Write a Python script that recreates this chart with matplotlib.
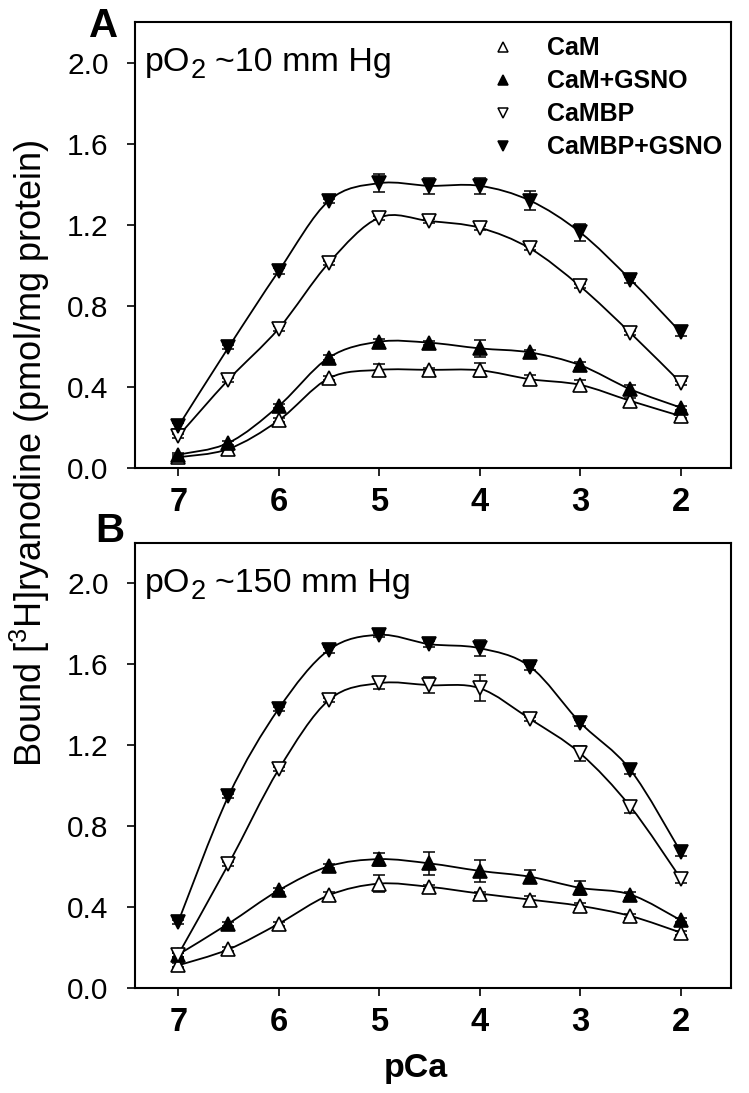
import numpy as np
import matplotlib
matplotlib.use("Agg")
import matplotlib.pyplot as plt
from matplotlib.path import Path
from matplotlib.patches import PathPatch
from matplotlib.lines import Line2D

plt.rcParams['font.family'] = ['Liberation Sans', 'DejaVu Sans']
plt.rcParams['mathtext.default'] = 'regular'

# ---------------- data ----------------
pca = [7, 6.5, 6, 5.5, 5, 4.5, 4, 3.5, 3, 2.5, 2]
series_labels = ['CaM', 'CaM+GSNO', 'CaMBP', 'CaMBP+GSNO']

# Panel A  (pO2 ~10 mm Hg)
cam_a = [0.053, 0.094, 0.235, 0.443, 0.484, 0.484, 0.482, 0.438, 0.410, 0.331, 0.256]
camg_a = [0.066, 0.124, 0.306, 0.545, 0.623, 0.618, 0.590, 0.570, 0.507, 0.388, 0.298]
cambp_a = [0.157, 0.436, 0.688, 1.013, 1.235, 1.218, 1.185, 1.083, 0.896, 0.666, 0.421]
cambpg_a = [0.205, 0.595, 0.972, 1.319, 1.405, 1.392, 1.392, 1.319, 1.162, 0.929, 0.669]
cam_a_err = [0.01, 0.01, 0.01, 0.01, 0.03, 0.01, 0.035, 0.02, 0.025, 0.015, 0.01]
camg_a_err = [0.01, 0.01, 0.01, 0.01, 0.015, 0.01, 0.04, 0.01, 0.015, 0.02, 0.01]
cambp_a_err = [0.01, 0.01, 0.01, 0.01, 0.01, 0.01, 0.01, 0.01, 0.01, 0.01, 0.01]
cambpg_a_err = [0.015, 0.01, 0.015, 0.01, 0.045, 0.04, 0.04, 0.045, 0.04, 0.015, 0.02]

# Panel B  (pO2 ~150 mm Hg)
cam_b = [0.112, 0.191, 0.318, 0.459, 0.516, 0.500, 0.467, 0.437, 0.406, 0.356, 0.274]
camg_b = [0.165, 0.318, 0.483, 0.602, 0.637, 0.616, 0.579, 0.550, 0.495, 0.462, 0.335]
cambp_b = [0.165, 0.612, 1.081, 1.424, 1.507, 1.497, 1.482, 1.330, 1.160, 0.896, 0.541]
cambpg_b = [0.327, 0.949, 1.381, 1.672, 1.746, 1.700, 1.680, 1.589, 1.312, 1.078, 0.673]
cam_b_err = [0.01, 0.01, 0.01, 0.015, 0.041, 0.01, 0.01, 0.02, 0.015, 0.01, 0.01]
camg_b_err = [0.01, 0.01, 0.01, 0.01, 0.032, 0.056, 0.054, 0.031, 0.033, 0.015, 0.01]
cambp_b_err = [0.01, 0.01, 0.01, 0.01, 0.03, 0.04, 0.065, 0.01, 0.037, 0.03, 0.02]
cambpg_b_err = [0.01, 0.01, 0.01, 0.015, 0.01, 0.015, 0.04, 0.015, 0.015, 0.02, 0.02]

x_ticks = [7, 6, 5, 4, 3, 2]
y_ticks = [0.0, 0.4, 0.8, 1.2, 1.6, 2.0]

# ---------------- styles ----------------
markers = ['^', '^', 'v', 'v']
faces = ['white', 'black', 'white', 'black']


def smooth_path(x, y):
    """Catmull-Rom curve through the data points, as cubic Bezier segments."""
    pts = np.column_stack([x, y]).astype(float)
    n = len(pts)
    verts = [pts[0]]
    codes = [Path.MOVETO]
    for i in range(n - 1):
        p0 = pts[i - 1] if i > 0 else pts[i]
        p1 = pts[i]
        p2 = pts[i + 1]
        p3 = pts[i + 2] if i + 2 < n else pts[i + 1]
        c1 = p1 + (p2 - p0) / 6.0
        c2 = p2 - (p3 - p1) / 6.0
        verts += [c1, c2, p2]
        codes += [Path.CURVE4] * 3
    return Path(verts, codes)


def po2_label(ax, rest):
    t1 = ax.text(7.33, 2.0, 'pO', fontsize=24.5, va='center', ha='left')
    t2 = ax.annotate('2', xy=(1.0, 0.0), xycoords=t1,
                     xytext=(0.5, -4), textcoords='offset points',
                     fontsize=19.5, va='bottom', ha='left')
    ax.annotate(rest, xy=(1.0, 0.0), xycoords=(t2, t1),
                xytext=(6, 0), textcoords='offset points',
                fontsize=24.5, va='bottom', ha='left')


def draw_panel(ax, ys, errs, rest):
    for y, e, m, fc in zip(ys, errs, markers, faces):
        ax.add_patch(PathPatch(smooth_path(pca, y), facecolor='none',
                               edgecolor='black', lw=1.3, zorder=2))
        ax.errorbar(pca, y, yerr=e, fmt='none', ecolor='black',
                    elinewidth=1.1, capsize=4, capthick=1.1, zorder=3)
        ax.plot(pca, y, linestyle='none', marker=m, markersize=9.5,
                markerfacecolor=fc, markeredgecolor='black',
                markeredgewidth=1.2, zorder=4)
    ax.set_xlim(7.43, 1.5)
    ax.set_ylim(0, 2.2)
    ax.set_xticks(x_ticks)
    ax.set_xticklabels([str(v) for v in x_ticks], fontweight='bold',
                       fontsize=23.5)
    ax.set_yticks(y_ticks)
    ax.set_yticklabels(['%.1f' % v for v in y_ticks], fontsize=21.5)
    ax.tick_params(axis='both', direction='out', length=6, width=1.2,
                   top=False, right=False)
    ax.tick_params(axis='y', pad=13)
    ax.tick_params(axis='x', pad=8)
    for s in ax.spines.values():
        s.set_linewidth(1.5)
    po2_label(ax, rest)


W, H = 749, 1093
fig = plt.figure(figsize=(W / 100, H / 100), dpi=100)

axA = fig.add_axes([135 / W, 1 - 468 / H, 596 / W, 446 / H])
axB = fig.add_axes([135 / W, 1 - 988 / H, 596 / W, 445 / H])

draw_panel(axA, [cam_a, camg_a, cambp_a, cambpg_a],
           [cam_a_err, camg_a_err, cambp_a_err, cambpg_a_err],
           '~10 mm Hg')
draw_panel(axB, [cam_b, camg_b, cambp_b, cambpg_b],
           [cam_b_err, camg_b_err, cambp_b_err, cambpg_b_err],
           '~150 mm Hg')

handles = [Line2D([], [], linestyle='none', marker=m, markersize=7,
                  markerfacecolor=fc, markeredgecolor='black',
                  markeredgewidth=1.1)
           for m, fc in zip(markers, faces)]
axA.legend(handles, series_labels, loc='upper left',
           bbox_to_anchor=(0.5965, 0.968), frameon=False,
           prop={'weight': 'bold', 'size': 18}, handlelength=1.0,
           handletextpad=1.25, labelspacing=0.36, borderpad=0,
           borderaxespad=0)

fig.text(118 / W, 1 - 37 / H, 'A', fontsize=29, fontweight='bold',
         ha='right', va='baseline')
fig.text(124 / W, 1 - 542 / H, 'B', fontsize=29, fontweight='bold',
         ha='right', va='baseline')

fig.text(30 / W, 1 - 453 / H, 'Bound [$^3$H]ryanodine (pmol/mg protein)',
         fontsize=26, rotation=90, ha='center', va='center')
fig.text(416 / W, 1 - 1077 / H, 'pCa', fontsize=24.5, fontweight='bold',
         ha='center', va='baseline')

fig.savefig('out.png', dpi=100)
